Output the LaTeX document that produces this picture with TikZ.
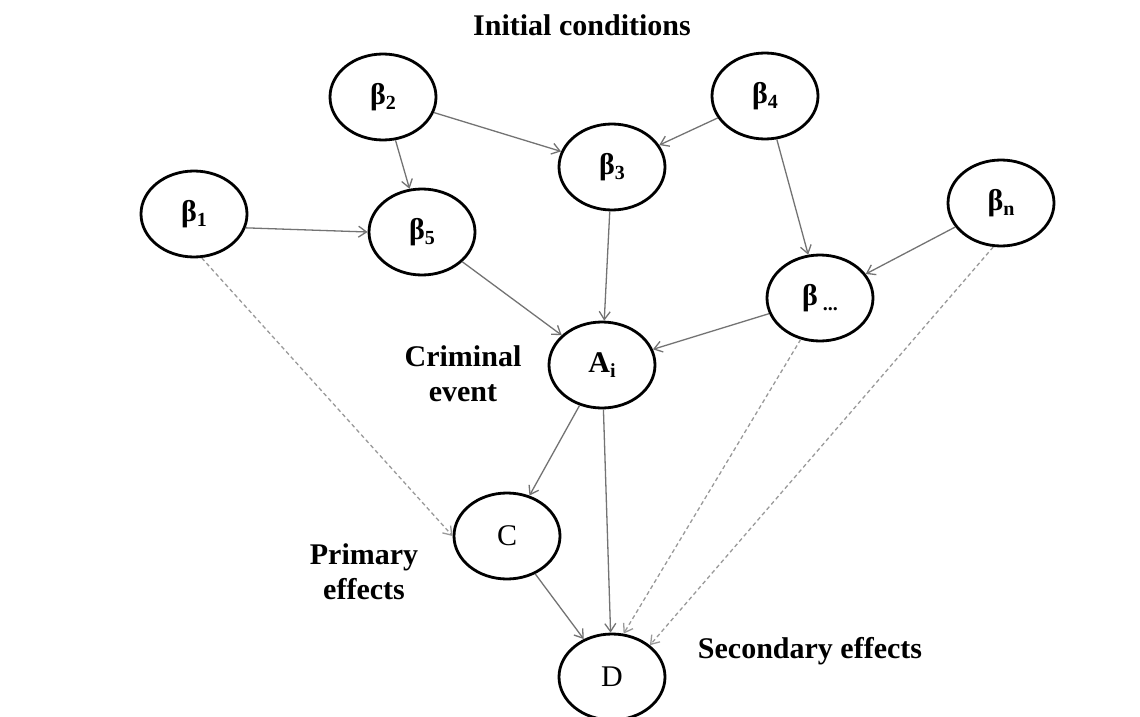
\documentclass[tikz,border=0pt]{standalone}
\usepackage{fontspec}
\setmainfont{Liberation Serif}
\usetikzlibrary{shapes.geometric,arrows.meta}
\newcommand{\lowsub}[1]{\raisebox{-5pt}{\fontsize{20}{20}\selectfont\bfseries #1}}
\begin{document}
\begin{tikzpicture}[x=1pt,y=-1pt,>={Straight Barb[length=8pt,width=11pt]}]
\tikzstyle{lbl} = [font=\fontsize{30}{35}\selectfont\bfseries,align=center];
\tikzstyle{ev}=[ellipse,draw,line width=2.8pt,minimum width=106pt,minimum height=86pt,inner sep=0pt,font=\fontsize{30}{32}\selectfont];
\tikzstyle{cause}=[->,draw=black!55,line width=1.3pt];
\tikzstyle{side}=[->,draw=black!40,line width=1.3pt,dash pattern=on 4pt off 3pt];
\useasboundingbox (0,0) rectangle (1140,717);
\node [ev] (b1) at (194,214) {\textbf{β}\lowsub{1}};
\node [ev] (b2) at (383,97) {\textbf{β}\lowsub{2}};
\node [ev] (b3) at (612,167) {\textbf{β}\lowsub{3}};
\node [ev] (b4) at (765,96) {\textbf{β}\lowsub{4}};
\node [ev] (b5) at (422,232) {\textbf{β}\lowsub{5}};
\node [ev] (bn) at (1001,203) {\textbf{β}\lowsub{n}};
\node [ev] (bx) at (820,298) {\textbf{β}\,\lowsub{...}};
\node [ev] (ai) at (602,365) {\textbf{A}\lowsub{i}};
\node [ev] (c) at (507,536) {C};
\node [ev] (d) at (612,677) {D};

\node [lbl] (init) at (582,25) {Initial conditions};
\node [lbl] (crim) at (463,374) {Criminal\\event};
\node [lbl] (prim) at (364,572) {Primary\\effects};
\node [lbl] (sec) at (810,651) {Secondary effects};

\draw [cause] (b1.-15) -- (b5.west);
\draw [cause] (b2) -- (b5);
\draw [cause] (b2) -- (b3);
\draw [cause] (b4) -- (b3);
\draw [cause] (b4) -- (bx);
\draw [cause] (bn) -- (bx);
\draw [cause] (b5) -- (ai);
\draw [cause] (b3) -- (ai);
\draw [cause] (bx) -- (ai);
\draw [cause] (ai) -- (c);
\draw [cause] (ai) -- (d);
\draw [cause] (c) -- (d);
\draw [side] (b1.-80) -- (c.west);
\draw [side] (bx.-115) -- (d.75);
\draw [side] (bn.-100) -- (d.40);
\end{tikzpicture}
\end{document}
